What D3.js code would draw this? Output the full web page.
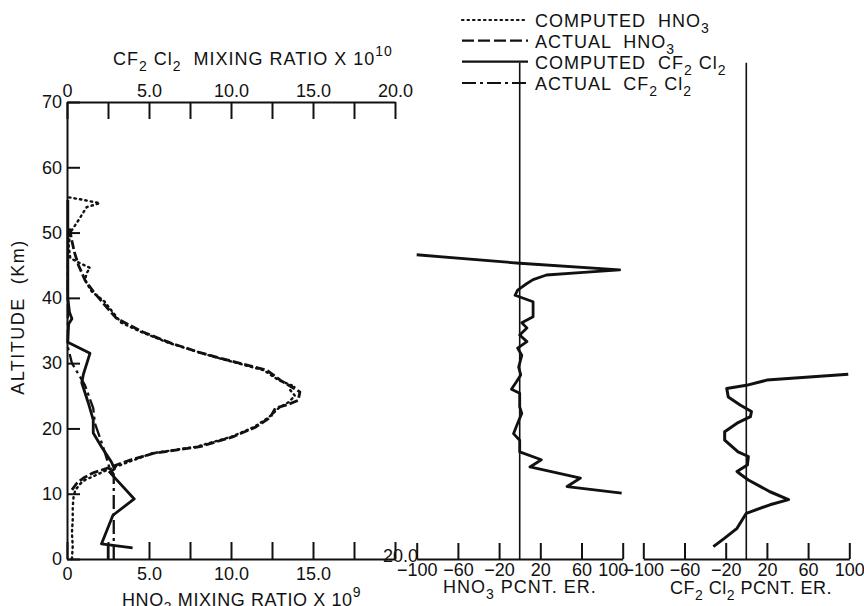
<!DOCTYPE html>
<html>
<head>
<meta charset="utf-8">
<script src="https://cdn.jsdelivr.net/npm/d3@7"></script>
<style>
  body { margin: 0; background: #fff; }
  svg { display: block; }
  text { font-family: "Liberation Sans", Arial, sans-serif; fill: #111; white-space: pre; }
</style>
</head>
<body>
<div id="chart"></div>
<script>
// values: [altitude km, value]
var hno3Computed = [[0,0.3],[2,0.35],[4,0.3],[6,0.35],[8,0.35],[9.5,0.4],[10.5,0.5],[11.5,0.8],[12.1,1.1],
  [13.0,1.9],[13.6,2.4],[14.9,3.8],[16.2,5.2],[17.2,7.9],[18.7,10.0],[20.2,11.4],[21.7,12.3],[23.1,12.9],
  [24.0,13.5],[25.0,13.9],[25.9,13.6],[26.4,13.9],[27.4,12.9],[28.9,12.0],[30.0,10.4],[31.0,8.9],[31.7,8.0],
  [33.1,6.2],[34.8,4.5],[36.2,3.3],[38.1,2.7],[39.4,2.3],[41.0,1.5],[42.7,1.1],[43.8,1.2],[44.6,1.4],
  [45.3,0.8],[46.1,0.2],[48,0.1],[50,0.2],[51.9,0.7],[53.9,1.2],[54.5,2.0],[55.1,0.8],[55.4,0.1]];
var hno3Actual = [[10.6,0.3],[11.6,0.6],[12.4,1.0],[13.2,1.6],[14.2,2.8],[15.2,3.9],[16.2,5.3],[17.2,8.1],
  [18.7,10.1],[20.2,11.5],[21.7,12.4],[23.1,12.7],[23.6,13.4],[24.3,14.1],[25.6,14.2],[26.2,13.8],[27.4,13.0],
  [28.9,12.2],[30.0,10.5],[31.0,9.0],[31.7,8.0],[33.1,6.3],[34.8,4.6],[36.9,3.0],[39.2,2.2],[41.0,1.6],
  [42.7,1.1],[45.0,0.7],[47.0,0.45],[49.3,0.25],[51.0,0.15]];
var cfComputedBase = [[0,2.5],[2.2,2.5]];
var cfComputed = [[1.7,4.0],[2.3,2.1],[6.7,2.8],[9.2,4.1],[13.3,2.6],[13.8,2.9],[14.9,2.7],[17.2,2.1],
  [19.3,1.6],[21.3,1.6],[23.9,1.3],[27.0,0.9],[28.3,1.0],[31.5,1.4],[33.2,0.05],[36.0,0.1],[36.8,0.3],
  [37.8,0.15],[40,0.05],[55,0.05]];
var cfActual = [[0,2.85],[13.0,2.85],[13.9,2.6],[17.2,2.2],[20.8,1.7],[23.1,1.6],[26.6,1.1],[27.9,0.8],
  [30.0,0.3],[32.5,0.05],[45,0.05]];
var hno3Error = [[46.6,-100],[45.3,0],[44.3,97],[43.9,62],[43.5,26],[42.8,13],[42.2,7],[41.2,-2],[40.4,-4.5],
  [39.4,13],[37.1,13],[36.2,2],[35.4,7],[34.3,0],[33.3,7],[32.3,-2],[31.2,2],[29.4,-1],[28.2,1],[27.2,-3],
  [26.0,-8],[25.4,0],[23.3,0],[22.3,2],[20.8,-2],[19.2,-6],[18.2,0],[16.4,0],[15.2,21],[14.1,10],[12.4,59],
  [11.1,46],[10.1,99]];
var cfError = [[28.3,99],[27.4,20],[26.6,0],[26.1,-19],[24.8,-17.5],[23.6,-6],[22.6,5],[21.8,4],[20.8,-9],
  [19.5,-21],[18.2,-21],[16.4,-8],[15.7,2],[14.4,1],[13.4,-9],[12.9,-5],[12.1,2],[10.3,23],[9.1,41],[8.3,23],
  [7.0,0],[4.7,-9],[3.2,-21],[1.9,-32]];
var zeroLine = [[0,0],[76,0]];

var altTicks = [0,10,20,30,40,50,60,70];
var ratioTicks = [0,2.5,5,7.5,10,12.5,15,17.5,20];
var ratioLabels = {0:'0',5:'5.0',10:'10.0',15:'15.0',20:'20.0'};
var pctTicks = [-100,-60,-20,20,60,100];

var legendLabels = [
  [['COMPUTED  HNO'],['3','sub']],
  [['ACTUAL  HNO'],['3','sub']],
  [['COMPUTED  CF'],['2','sub'],[' Cl'],['2','sub']],
  [['ACTUAL  CF'],['2','sub'],[' Cl'],['2','sub']]
];
var legendDash = ['1.5,4', '12,4', null, '14,4,3,4'];

var svg = d3.select('#chart').append('svg').attr('width', 864).attr('height', 606);

var y = d3.scaleLinear().domain([0,70]).range([559,102]);
var xHno3 = d3.scaleLinear().domain([0,20]).range([67,395]);
var xCf = d3.scaleLinear().domain([0,20]).range([67,395]);
var xPctA = d3.scaleLinear().domain([-100,100]).range([416.7,622.7]);
var xPctB = d3.scaleLinear().domain([-100,100]).range([643.3,849.3]);

// text with sub/superscripts
function richText(g, x, y0, parts, size, spacing) {
  var t = g.append('text').attr('x', x).attr('y', y0).attr('font-size', size)
    .attr('letter-spacing', spacing == null ? 1 : spacing);
  var shift = 0;
  parts.forEach(function(p) {
    var target = p[1] === 'sub' ? 6 : p[1] === 'sup' ? -9 : 0;
    var s = t.append('tspan').text(p[0]).attr('dy', target - shift);
    if (p[1]) s.attr('font-size', size - 4);
    shift = target;
  });
  return t;
}

function styleAxis(g) {
  g.attr('font-family', null).attr('font-size', null);
  g.selectAll('path,line').attr('stroke', '#111').attr('stroke-width', 2);
  g.selectAll('text').attr('font-size', 18);
}

// axes
svg.append('g').attr('transform', 'translate(0,559)')
  .call(d3.axisBottom(xHno3).tickValues(ratioTicks).tickSize(-17).tickSizeOuter(0).tickPadding(8)
    .tickFormat(function(d) { return ratioLabels[d] || ''; }))
  .call(styleAxis)
  .selectAll('text').filter(function(d) { return d === 20; }).attr('dy', '-0.3em').attr('dx', 5);

svg.append('g').attr('transform', 'translate(0,102)')
  .call(d3.axisTop(xCf).tickValues(ratioTicks).tickSize(-17).tickSizeOuter(0).tickPadding(5)
    .tickFormat(function(d) { return ratioLabels[d] || ''; }))
  .call(styleAxis);

svg.append('g').attr('transform', 'translate(67,0)')
  .call(d3.axisLeft(y).tickValues(altTicks).tickSize(-13).tickSizeOuter(0).tickPadding(5))
  .call(styleAxis);

svg.append('g').attr('transform', 'translate(0,559)')
  .call(d3.axisBottom(xPctA).tickValues(pctTicks).tickSize(-16).tickSizeOuter(0).tickPadding(4))
  .call(styleAxis)
  .selectAll('text').filter(function(d) { return d === 100; }).attr('dx', -10);

svg.append('g').attr('transform', 'translate(0,559)')
  .call(d3.axisBottom(xPctB).tickValues(pctTicks).tickSize(-16).tickSizeOuter(0).tickPadding(4))
  .call(styleAxis);

// curves
function lineFor(xs) {
  return d3.line().x(function(d) { return xs(d[1]); }).y(function(d) { return y(d[0]); });
}
function curve(data, xs, dash, width) {
  svg.append('path').datum(data).attr('d', lineFor(xs))
    .attr('fill', 'none').attr('stroke', '#111').attr('stroke-width', width)
    .attr('stroke-linejoin', 'round').attr('stroke-linecap', dash === '1.5,4' ? 'round' : 'butt')
    .attr('stroke-dasharray', dash);
}

curve(zeroLine, xPctA, null, 1.6);
curve(zeroLine, xPctB, null, 1.6);
curve(hno3Computed, xHno3, '1.5,4', 2.4);
curve(hno3Actual, xHno3, '9,3', 2.8);
curve(cfActual, xCf, '14,4,3,4', 2.3);
curve(cfComputedBase, xCf, null, 2.4);
curve(cfComputed, xCf, null, 2.8);
curve(hno3Error, xPctA, null, 2.8);
curve(cfError, xPctB, null, 3);

// axis titles
richText(svg, 113, 65, [['CF'],['2','sub'],[' Cl'],['2','sub'],['  MIXING RATIO X 10'],['10','sup']], 18);
richText(svg, 122, 606, [['HNO'],['3','sub'],[' MIXING RATIO X 10'],['9','sup']], 18, 0.6);
richText(svg, 443, 593, [['HNO'],['3','sub'],[' PCNT. ER.']], 18);
richText(svg, 670, 594, [['CF'],['2','sub'],[' Cl'],['2','sub'],[' PCNT. ER.']], 18, 0.5);

svg.append('text').attr('transform', 'translate(18,317) rotate(-90)')
  .attr('text-anchor', 'middle').attr('dominant-baseline', 'central')
  .attr('font-size', 18).attr('letter-spacing', 1.5).text('ALTITUDE  (Km)');

// legend
var legendY = [20, 40.7, 61.7, 83];
legendLabels.forEach(function(parts, i) {
  svg.append('line').attr('x1', 462).attr('x2', 528).attr('y1', legendY[i]).attr('y2', legendY[i])
    .attr('stroke', '#111').attr('stroke-width', 2.2).attr('stroke-dasharray', legendDash[i])
    .attr('stroke-linecap', i === 0 ? 'round' : 'butt');
  richText(svg, 535, legendY[i] + 7, parts, 18);
});
</script>
</body>
</html>
